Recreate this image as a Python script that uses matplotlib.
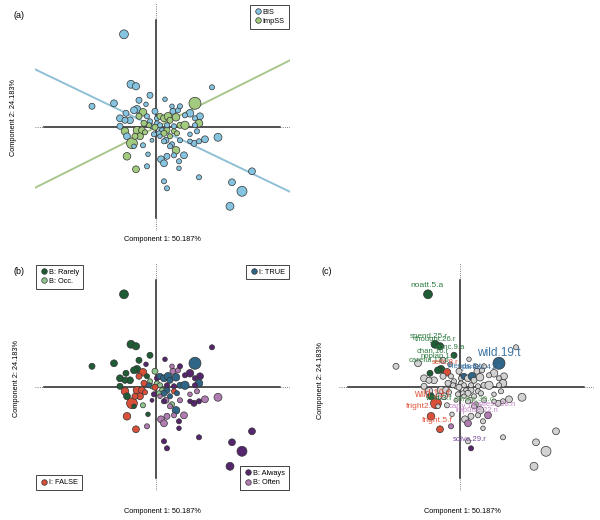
import matplotlib.pyplot as plt
from matplotlib.lines import Line2D

plt.rcParams['font.family'] = ['Liberation Sans', 'DejaVu Sans']

# item coordinates on the two first components (same for all panels)
x = [-0.32, -0.25, -0.20, -0.64, -0.42, -0.06, -0.17, 0.09, 0.56, -0.19,
     -0.22, -0.10, -0.36, -0.30, -0.26, -0.31, -0.13, -0.17, -0.09, -0.36,
     -0.31, -0.29, -0.24, -0.19, -0.14, -0.16, -0.11, -0.21, -0.13, -0.22,
     -0.29, -0.20, -0.08, -0.09, -0.04, -0.01, -0.06, 0.01, 0.04, 0.06,
     0.03, -0.02, 0.01, 0.04, 0.08, 0.12, 0.14, 0.17, 0.22, 0.24,
     0.20, 0.24, 0.29, 0.34, 0.44, 0.39, 0.43, 0.39, 0.39, 0.18,
     0.11, 0.08, 0.14, 0.10, 0.16, 0.20, 0.14, 0.24, 0.34, 0.41,
     0.49, 0.62, 0.38, 0.43, 0.34, 0.28, 0.23, 0.23, 0.18, 0.11,
     0.05, 0.08, 0.08, 0.11, 0.43, 0.96, 0.76, 0.86, 0.74, -0.04,
     0.08, -0.07, -0.01, -0.12, 0.18, 0.11, 0.21, 0.16, 0.29, 0.04]
y = [0.93, 0.43, 0.41, 0.21, 0.24, 0.32, 0.27, 0.28, 0.40, 0.18,
     0.17, 0.23, 0.09, 0.14, 0.07, 0.07, 0.15, 0.11, 0.11, 0.01,
     -0.04, -0.09, -0.16, -0.03, -0.03, -0.09, -0.05, -0.09, -0.18, -0.19,
     -0.29, -0.42, -0.27, -0.39, 0.01, 0.16, 0.06, 0.04, 0.02, -0.03,
     -0.06, -0.07, 0.09, 0.11, 0.09, 0.11, 0.07, 0.16, 0.17, 0.21,
     0.10, 0.02, 0.02, 0.14, 0.11, 0.09, 0.04, 0.02, 0.24, 0.01,
     -0.03, -0.06, -0.09, -0.13, -0.17, -0.23, -0.19, -0.13, -0.07, -0.04,
     -0.12, -0.10, -0.16, -0.14, -0.14, -0.28, -0.34, -0.41, -0.28, -0.29,
     -0.32, -0.36, -0.54, -0.61, -0.50, -0.44, -0.55, -0.64, -0.79, -0.13,
     -0.14, 0.02, 0.00, 0.04, -0.04, 0.02, -0.06, 0.21, 0.12, -0.09]
size = [30, 24, 20, 14, 18, 14, 14, 8, 10, 22,
        18, 8, 18, 14, 18, 14, 22, 14, 10, 14,
        22, 18, 45, 22, 18, 18, 10, 14, 10, 8,
        22, 18, 8, 10, 10, 14, 10, 10, 10, 10,
        10, 10, 10, 14, 18, 22, 14, 14, 10, 10,
        22, 14, 26, 22, 18, 10, 22, 10, 55, 10,
        14, 14, 10, 14, 10, 22, 10, 10, 8, 10,
        18, 24, 14, 10, 8, 18, 10, 8, 10, 14,
        18, 18, 10, 10, 10, 18, 18, 38, 24, 6,
        10, 10, 14, 14, 10, 10, 10, 8, 10, 8]
# response category of each item: R Rarely, O Occ., N Often, A Always, T TRUE, F FALSE
cat = list('RRRRRRRAARRARRRRFFRRFRFFFFFFORFFRNOOOOOOOAATTTTNNATTTAAATATATTTNOTNNNNNNAAANAANNNNAAAAAAAAATFFFATNAN')

cat_names = {'R': 'B: Rarely', 'O': 'B: Occ.', 'T': 'I: TRUE', 'F': 'I: FALSE',
             'A': 'B: Always', 'N': 'B: Often'}
cat_colors = {'R': '#1f5c35', 'O': '#8fc48e', 'T': '#2f6587', 'F': '#d9503a',
              'A': '#55256e', 'N': '#b07cb2'}
text_colors = {'R': '#2f7c42', 'O': '#72b072', 'T': '#3c74a4', 'F': '#e2563f',
               'A': '#7b4aa0', 'N': '#c386c6'}
bis_color = '#85c4e0'
imp_color = '#a3cb80'

# loading directions of the two scales
load_x = [-1.21, 1.34]
bis_load_y = [0.58, -0.645]
imp_load_y = [-0.605, 0.67]

# labelled items in panel (c)
lab_idx = [0, 1, 2, 5, 9, 10, 13, 16, 43, 45, 58, 22, 21, 30, 31, 64, 33, 81, 75, 83]
lab_text = ['noatt.5.a', 'spend.25.r', 'thought.26.r', 'conc.9.a', 'chan.16.r',
            'noplan.1.r', 'careful.12.o', 'selfc.8.r', 'friends.3.t', 'parties.41.t',
            'wild.19.t', 'wild.19.f', 'wild.3.f', 'fright2.f', 'fright.5.f',
            'drinks.39.o', 'carry.13.n', 'restless.28.n', 'impulse.22.n', 'solve.29.r']
lab_x = [-0.33, -0.31, -0.24, -0.10, -0.27, -0.22, -0.31, -0.15, 0.05, 0.21,
         0.39, -0.28, -0.22, -0.40, -0.23, 0.14, 0.06, 0.34, 0.17, 0.10]
lab_y = [1.02, 0.51, 0.48, 0.40, 0.355, 0.31, 0.265, 0.245, 0.205, 0.195,
         0.34, -0.065, -0.11, -0.19, -0.33, -0.125, -0.19, -0.17, -0.23, -0.52]
lab_fs = [6.1, 5.8, 5.6, 5.6, 5.6, 5.6, 5.6, 5.4, 5.6, 5.6,
          8.6, 7.0, 6.0, 6.0, 6.0, 6.0, 5.6, 5.6, 5.4, 5.6]

XLIM = (-1.21, 1.34)
YLIM = (-1.04, 1.24)
X_SOLID = (-1.12, 1.24)
Y_SOLID = (-0.91, 1.07)
SIZE_SCALE = 1.35


def draw_axes_cross(ax):
    ax.plot(X_SOLID, [0, 0], color='#222222', lw=1.1, zorder=1)
    ax.plot([0, 0], Y_SOLID, color='#222222', lw=1.1, zorder=1)
    ax.plot([XLIM[0], X_SOLID[0]], [0, 0], color='#555555', lw=0.6, ls=':', zorder=1)
    ax.plot([X_SOLID[1], XLIM[1]], [0, 0], color='#555555', lw=0.6, ls=':', zorder=1)
    ax.plot([0, 0], [YLIM[0], Y_SOLID[0]], color='#555555', lw=0.6, ls=':', zorder=1)
    ax.plot([0, 0], [Y_SOLID[1], YLIM[1]], color='#555555', lw=0.6, ls=':', zorder=1)
    ax.set_xlim(XLIM)
    ax.set_ylim(YLIM)
    ax.axis('off')


def handle(color):
    return Line2D([], [], marker='o', ls='', markersize=4, markerfacecolor=color,
                  markeredgecolor='#333333', markeredgewidth=0.5)


def legend_box(ax, keys, loc):
    leg = ax.legend([handle(cat_colors[k]) for k in keys], [cat_names[k] for k in keys],
                    loc=loc, fontsize=5.3, fancybox=False, edgecolor='#444444',
                    framealpha=1, borderaxespad=0.2, handletextpad=0.2,
                    labelspacing=0.3, borderpad=0.5, handlelength=1.0)
    leg.get_frame().set_linewidth(0.7)
    ax.add_artist(leg)


sizes = [s * SIZE_SCALE for s in size]

fig = plt.figure(figsize=(6, 5.2), dpi=100)
ax_a = fig.add_axes([0.0583, 0.5552, 0.425, 0.4385])
ax_b = fig.add_axes([0.0583, 0.0552, 0.425, 0.4385])
ax_c = fig.add_axes([0.565, 0.0552, 0.425, 0.4385])

# (a) BIS vs ImpSS items
draw_axes_cross(ax_a)
ax_a.plot(load_x, bis_load_y, color='#8fc0d6', lw=1.4, zorder=2)
ax_a.plot(load_x, imp_load_y, color='#a9c78d', lw=1.4, zorder=2)
cols_a = [imp_color if c in 'TF' else bis_color for c in cat]
ax_a.scatter(x, y, s=sizes, c=cols_a, edgecolors='#333333', linewidths=0.5, zorder=3)
leg = ax_a.legend([handle(bis_color), handle(imp_color)], ['BIS', 'ImpSS'],
                  loc='upper right', fontsize=5.3, fancybox=False, edgecolor='#444444',
                  framealpha=1, borderaxespad=0.2, handletextpad=0.2,
                  labelspacing=0.3, borderpad=0.5, handlelength=1.0)
leg.get_frame().set_linewidth(0.7)

# (b) response categories
draw_axes_cross(ax_b)
ax_b.scatter(x, y, s=sizes, c=[cat_colors[c] for c in cat], edgecolors='#333333',
             linewidths=0.5, zorder=3)
legend_box(ax_b, ['R', 'O'], 'upper left')
legend_box(ax_b, ['T'], 'upper right')
legend_box(ax_b, ['F'], 'lower left')
legend_box(ax_b, ['A', 'N'], 'lower right')

# (c) selected items labelled
draw_axes_cross(ax_c)
cols_c = ['#d2d2d2'] * len(x)
for i in lab_idx:
    cols_c[i] = cat_colors[cat[i]]
ax_c.scatter(x, y, s=sizes, c=cols_c, edgecolors='#333333', linewidths=0.5, zorder=3)
for i, t, tx, ty, fs in zip(lab_idx, lab_text, lab_x, lab_y, lab_fs):
    ax_c.text(tx, ty, t, color=text_colors[cat[i]], fontsize=fs, ha='center',
              va='center', zorder=4)

for lx, ly, lab in [(0.0217, 0.971, '(a)'), (0.0217, 0.477, '(b)'), (0.535, 0.477, '(c)')]:
    fig.text(lx, ly, lab, fontsize=6.5, ha='left', va='center')
for lx, ly in [(0.27, 0.5385), (0.27, 0.0154), (0.77, 0.0154)]:
    fig.text(lx, ly, 'Component 1: 50.187%', fontsize=5.3, ha='center', va='center')
for lx, ly in [(0.0217, 0.775), (0.0267, 0.273), (0.5345, 0.269)]:
    fig.text(lx, ly, 'Component 2: 24.183%', fontsize=5.3, ha='center', va='center',
             rotation=90)

fig.savefig('out.png', dpi=100)
